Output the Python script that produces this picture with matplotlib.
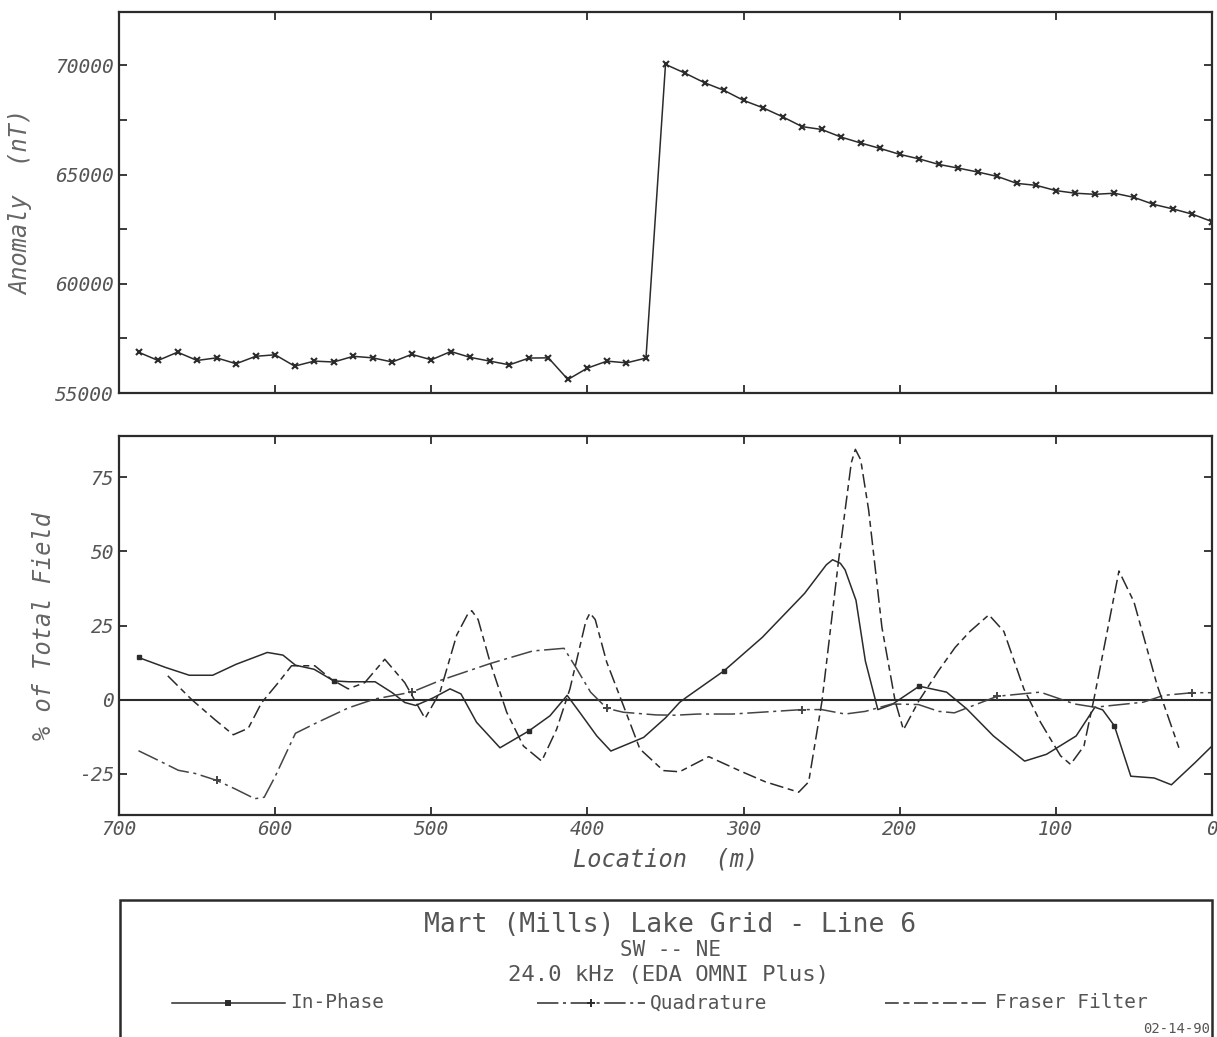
import numpy as np
import matplotlib
matplotlib.use('Agg')
import matplotlib.pyplot as plt
from matplotlib.lines import Line2D
from matplotlib.patches import Rectangle

plt.rcParams['font.family'] = ['DejaVu Sans Mono']
plt.rcParams['axes.unicode_minus'] = False

# ------------------------------------------------------------------
# Magnetic anomaly (top panel), stations every 12.5 m
magLoc = [687.5, 675, 662.5, 650, 637.5, 625, 612.5, 600, 587.5, 575, 562.5, 550,
          537.5, 525, 512.5, 500, 487.5, 475, 462.5, 450, 437.5, 425, 412.5, 400,
          387.5, 375, 362.5, 350, 337.5, 325, 312.5, 300, 287.5, 275, 262.5, 250,
          237.5, 225, 212.5, 200, 187.5, 175, 162.5, 150, 137.5, 125, 112.5, 100,
          87.5, 75, 62.5, 50, 37.5, 25, 12.5, 0]
magVal = [56870, 56490, 56870, 56490, 56610, 56340, 56680, 56750, 56230, 56460, 56420, 56680,
          56610, 56420, 56770, 56520, 56900, 56630, 56460, 56290, 56600, 56610, 55620, 56140,
          56460, 56380, 56600, 70050, 69650, 69210, 68860, 68400, 68060, 67650, 67200, 67070,
          66720, 66450, 66200, 65930, 65720, 65470, 65300, 65120, 64920, 64600, 64510, 64270,
          64150, 64100, 64150, 63960, 63640, 63430, 63190, 62850]

# VLF-EM (bottom panel)
ipLoc = [687.5, 670, 655, 640, 625, 605, 595, 587, 575, 562.5, 553, 536, 525, 517, 510,
         499, 488, 481, 471, 456, 437.5, 424, 413, 405, 394, 385, 364, 350, 341, 337,
         312.5, 288, 261, 247, 243, 238, 235, 228, 222, 214, 205, 187.5, 170, 157, 140, 120, 106,
         87, 75, 70, 62.5, 52, 37, 26, 11, 0]
ipVal = [14.2, 10.8, 8.2, 8.2, 11.9, 15.9, 15.0, 11.6, 10.2, 6.3, 6.0, 6.0, 2.3, -1.0, -2.0,
         0.5, 3.6, 1.9, -7.7, -16.3, -10.6, -5.5, 1.4, -4.3, -12.3, -17.4, -12.8, -6.2, -1.0, 0.6,
         9.7, 21.0, 35.8, 45.5, 47.2, 46.0, 43.8, 33.5, 13.0, -3.4, -1.7, 4.5, 2.5, -3.2, -12.3, -20.8, -18.5,
         -12.3, -2.6, -3.5, -8.9, -25.9, -26.5, -28.8, -21.4, -15.7]
ipMarks = [687.5, 562.5, 437.5, 312.5, 187.5, 62.5]

quLoc = [687.5, 675, 662, 651, 637.5, 626, 613, 607, 600, 587, 574, 553, 536, 512.5, 494,
         462, 435, 415, 407, 398, 387.5, 377, 356, 344, 329, 307, 286, 262.5, 250, 235,
         222, 205, 188, 175, 165, 137.5, 110, 88, 75, 44, 31, 12.5, 0]
quVal = [-17.3, -20.5, -23.9, -25.0, -27.3, -30.1, -33.5, -33.0, -26.0, -11.4, -8.0, -2.8, 0.2, 2.5, 6.5,
         12.2, 16.4, 17.3, 10.5, 2.5, -3.0, -4.3, -5.2, -5.3, -4.9, -4.9, -4.2, -3.4, -3.4, -4.9,
         -4.0, -1.5, -1.7, -4.0, -4.5, 1.1, 2.5, -1.5, -2.6, -0.9, 1.4, 2.3, 2.3]
quMarks = [637.5, 512.5, 387.5, 262.5, 137.5, 12.5]

ffLoc = [668.75, 653.5, 638.6, 626.8, 617.2, 608.7, 598, 589.5, 574.6, 563.9, 553.2, 542.6,
         529.8, 517, 504, 494.4, 483.7, 477, 474.1, 470, 462.4, 451.7, 441, 429.3, 419.7, 411.2,
         401, 398.4, 395, 387.7, 377, 366.4, 351.4, 341, 322.3, 301, 286, 264.7, 258.3, 249.8,
         239.1, 231, 228.4, 225, 219.9, 211.4, 202.9, 197.6, 187.9, 175.2, 164.5, 155, 142.9,
         133.3, 120.5, 109.8, 97, 90.6, 82, 75.6, 67.1, 59.6, 50, 35.1, 21.2]
ffVal = [8.0, 0.0, -6.8, -11.9, -9.7, -1.1, 5.7, 11.4, 11.4, 6.8, 3.6, 5.7,
         13.6, 5.7, -6.4, 2.5, 21.8, 28.5, 30.0, 27.0, 12.7, -4.3, -15.7, -20.8, -10.0, 3.6,
         26.5, 29.2, 27.0, 12.7, -2.0, -16.7, -24.0, -24.4, -19.3, -24.4, -27.8, -31.3, -27.8, -0.6,
         47.2, 80.0, 84.5, 81.0, 64.0, 24.4, -0.6, -10.2, -0.6, 9.7, 17.6, 23.0, 28.6,
         23.0, 3.6, -7.7, -19.0, -21.9, -15.7, 0.2, 23.0, 43.4, 33.0, 4.8, -16.3]

titleLines = ['Mart (Mills) Lake Grid - Line 6', 'SW -- NE', '24.0 kHz (EDA OMNI Plus)']
legendNames = ['In-Phase', 'Quadrature', 'Fraser Filter']
plotDate = '02-14-90'

# ------------------------------------------------------------------
lineCol = '#2b2b2b'
textCol = '#555555'
quDash = (14, 3, 2, 3)
ffDash = (9, 3, 4, 3)

W, H = 1217, 1037
fig = plt.figure(figsize=(W / 100, H / 100), dpi=100)


def figX(px):
    return px / W


def figY(py):
    return 1 - py / H


def styleAxes(ax):
    for s in ax.spines.values():
        s.set_linewidth(1.6)
        s.set_color(lineCol)
    ax.tick_params(direction='in', top=True, right=True, length=6, width=1.3,
                   colors=lineCol, labelcolor=textCol, labelsize=14)
    ax.set_xlim(700, 0)
    ax.set_xticks([700, 600, 500, 400, 300, 200, 100, 0])
    for lab in ax.get_xticklabels() + ax.get_yticklabels():
        lab.set_style('italic')


# top panel: magnetics
ax1 = fig.add_axes([figX(119), figY(393), figX(1212 - 119), (393 - 12) / H])
ax1.plot(magLoc, magVal, color=lineCol, lw=1.1, marker='x', ms=4, mew=1.5)
ax1.set_ylim(55000, 72450)
ax1.set_yticks(np.arange(55000, 72001, 2500))
ax1.set_yticklabels([str(int(v)) if v % 5000 == 0 else '' for v in np.arange(55000, 72001, 2500)])
styleAxes(ax1)
ax1.tick_params(labelbottom=False)
ax1.set_ylabel('Anomaly  (nT)', fontsize=17, style='italic', color='#666666')
ax1.yaxis.set_label_coords((33 - 119) / 1093, 0.5)

# bottom panel: VLF-EM
ax2 = fig.add_axes([figX(119), figY(815), figX(1212 - 119), (815 - 436) / H])
ax2.axhline(0, color=lineCol, lw=1.5)
ipMarkIdx = [ipLoc.index(m) for m in ipMarks]
quMarkIdx = [quLoc.index(m) for m in quMarks]
ax2.plot(ipLoc, ipVal, color=lineCol, lw=1.1, marker='s', ms=3.5, markevery=ipMarkIdx)
ax2.plot(quLoc, quVal, color='#444444', lw=1.1, dashes=quDash, marker='+', ms=6, mew=1.4,
         markevery=quMarkIdx)
ax2.plot(ffLoc, ffVal, color=lineCol, lw=1.1, dashes=ffDash)
ax2.set_ylim(-39, 89)
ax2.set_yticks([-25, 0, 25, 50, 75])
styleAxes(ax2)
ax2.set_ylabel('% of Total Field', fontsize=17, style='italic', color='#666666')
ax2.yaxis.set_label_coords((56 - 119) / 1093, 0.5)
ax2.set_xlabel('Location  (m)', fontsize=17, style='italic', color='#555555', labelpad=6)

# title block
box = Rectangle((figX(120), figY(1045)), figX(1212 - 120), (1045 - 900) / H,
                transform=fig.transFigure, fill=False, lw=1.8, ec=lineCol)
fig.patches.append(box)
fig.text(figX(670), figY(925), titleLines[0], ha='center', va='center', fontsize=19, color=textCol)
fig.text(figX(670), figY(950), titleLines[1], ha='center', va='center', fontsize=15, color=textCol)
fig.text(figX(668), figY(975), titleLines[2], ha='center', va='center', fontsize=16, color=textCol)

legY = figY(1003)
legSpecs = [(172, 285, 228, dict(ls='-'), 's', 3.5),
            (537, 645, 591, dict(dashes=quDash), '+', 6),
            (885, 990, None, dict(dashes=ffDash), None, 0)]
for (x0, x1, xm, lsArgs, mk, ms), name in zip(legSpecs, legendNames):
    fig.add_artist(Line2D([figX(x0), figX(x1)], [legY, legY], transform=fig.transFigure,
                          color=lineCol, lw=1.1, **lsArgs))
    if mk is not None:
        fig.add_artist(Line2D([figX(xm)], [legY], transform=fig.transFigure, color=lineCol,
                              marker=mk, ms=ms, mew=1.4, ls='none'))
    fig.text(figX(x1 + 5), legY, name, ha='left', va='center', fontsize=14, color=textCol)

fig.text(figX(1210), figY(1029), plotDate, ha='right', va='center', fontsize=10, color=textCol)

plt.savefig('out.png', dpi=100)
